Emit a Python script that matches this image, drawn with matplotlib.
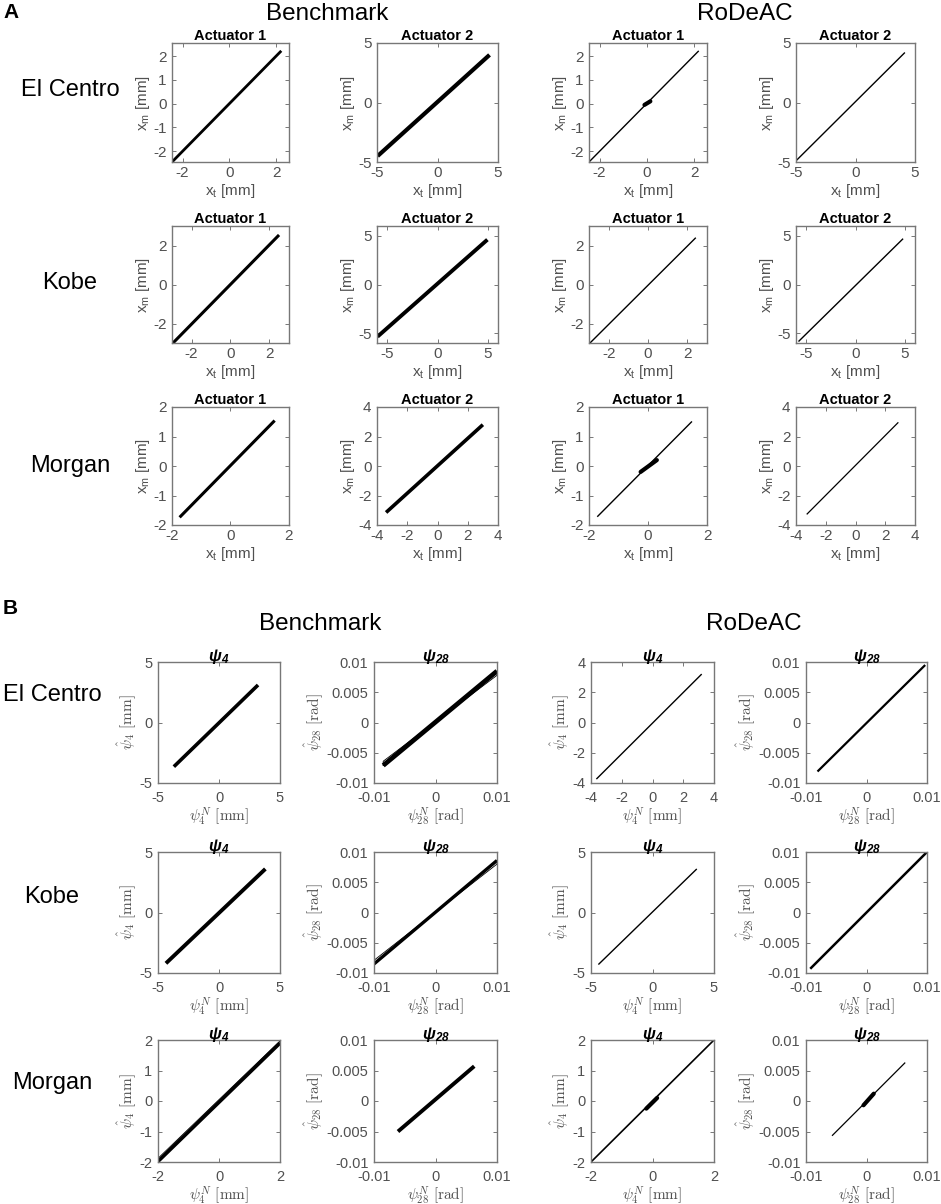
import numpy as np
import matplotlib
matplotlib.use('Agg')
import matplotlib.pyplot as plt

plt.rcParams['font.family'] = ['Liberation Sans', 'DejaVu Sans']
plt.rcParams['mathtext.fontset'] = 'custom'
plt.rcParams['mathtext.rm'] = 'Liberation Sans'
plt.rcParams['mathtext.it'] = 'Liberation Sans:italic'
plt.rcParams['mathtext.bf'] = 'Liberation Sans:bold:italic'

W, H = 941, 1204

records = ['El Centro', 'Kobe', 'Morgan']
methods = ['Benchmark', 'RoDeAC']

# ---- Panel A: actuator tracking (x_t vs x_m) ----
a_titles = ['Actuator 1', 'Actuator 2', 'Actuator 1', 'Actuator 2']
a_lim = [[(-2.45, 2.55), (-5, 5), (-2.45, 2.55), (-5, 5)],
         [(-3, 3), (-6, 6), (-3, 3), (-6, 6)],
         [(-2, 2), (-4, 4), (-2, 2), (-4, 4)]]
a_xticks = [[[-2, 0, 2], [-5, 0, 5], [-2, 0, 2], [-5, 0, 5]],
            [[-2, 0, 2], [-5, 0, 5], [-2, 0, 2], [-5, 0, 5]],
            [[-2, 0, 2], [-4, -2, 0, 2, 4], [-2, 0, 2], [-4, -2, 0, 2, 4]]]
a_yticks = [[[-2, -1, 0, 1, 2], [-5, 0, 5], [-2, -1, 0, 1, 2], [-5, 0, 5]],
            [[-2, 0, 2], [-5, 0, 5], [-2, 0, 2], [-5, 0, 5]],
            [[-2, -1, 0, 1, 2], [-4, -2, 0, 2, 4], [-2, -1, 0, 1, 2], [-4, -2, 0, 2, 4]]]
# trace end points (start x, start y, end x, end y)
a_x0 = [[-2.45, -4.95, -2.45, -5.0], [-2.95, -5.95, -2.95, -5.75], [-1.74, -3.4, -1.72, -3.28]]
a_y0 = [[-2.45, -4.5, -2.45, -4.9], [-3.0, -5.35, -3.0, -5.85], [-1.74, -3.15, -1.72, -3.28]]
a_x1 = [[2.22, 4.3, 2.2, 4.15], [2.49, 4.95, 2.43, 4.8], [1.51, 3.0, 1.49, 2.88]]
a_y1 = [[2.22, 4.0, 2.22, 4.2], [2.54, 4.6, 2.4, 4.7], [1.54, 2.8, 1.51, 2.96]]
# local thickening around the origin (x0, y0, x1, y1), None if absent
a_blob = [[None, None, (-0.1, -0.05, 0.15, 0.1), None],
          [None, None, None, None],
          [None, None, (-0.25, -0.2, 0.3, 0.2), None]]

# ---- Panel B: modal estimation (psi^N vs psi_hat) ----
b_modes = ['4', '28', '4', '28']
b_units = ['mm', 'rad', 'mm', 'rad']
b_lim = [[(-5, 5), (-0.01, 0.01), (-4, 4), (-0.01, 0.01)],
         [(-5, 5), (-0.01, 0.01), (-5, 5), (-0.01, 0.01)],
         [(-2, 2), (-0.01, 0.01), (-2, 2), (-0.01, 0.01)]]
b_xticks = [[[-5, 0, 5], [-0.01, 0, 0.01], [-4, -2, 0, 2, 4], [-0.01, 0, 0.01]],
            [[-5, 0, 5], [-0.01, 0, 0.01], [-5, 0, 5], [-0.01, 0, 0.01]],
            [[-2, 0, 2], [-0.01, 0, 0.01], [-2, 0, 2], [-0.01, 0, 0.01]]]
b_yticks = [[[-5, 0, 5], [-0.01, -0.005, 0, 0.005, 0.01], [-4, -2, 0, 2, 4], [-0.01, -0.005, 0, 0.005, 0.01]],
            [[-5, 0, 5], [-0.01, -0.005, 0, 0.005, 0.01], [-5, 0, 5], [-0.01, -0.005, 0, 0.005, 0.01]],
            [[-2, -1, 0, 1, 2], [-0.01, -0.005, 0, 0.005, 0.01], [-2, -1, 0, 1, 2], [-0.01, -0.005, 0, 0.005, 0.01]]]
b_x0 = [[-3.7, -0.0085, -3.65, -0.0081], [-4.35, -0.01, -4.4, -0.0093], [-2.0, -0.0061, -2.0, -0.0057]]
b_y0 = [[-3.65, -0.0071, -3.74, -0.0081], [-4.2, -0.0085, -4.3, -0.0093], [-1.98, -0.005, -2.0, -0.0057]]
b_x1 = [[3.2, 0.01, 3.2, 0.0097], [3.8, 0.01, 3.6, 0.01], [2.0, 0.0063, 2.0, 0.0064]]
b_y1 = [[3.1, 0.0085, 3.2, 0.0095], [3.6, 0.0086, 3.6, 0.01], [1.9, 0.0057, 2.0, 0.0063]]
# visible hysteresis loop outline (lower branch start y, lower branch end y), None if absent
b_loop = [[None, (-0.0064, 0.0078), None, None],
          [None, (-0.0079, 0.0080), None, None],
          [(-1.88, 1.97), None, None, None]]
b_blob = [[None, None, None, None],
          [None, None, None, None],
          [None, None, (-0.2, -0.25, 0.15, 0.1), (-0.0005, -0.0007, 0.0012, 0.0012)]]

# ---- layout (pixels): columns (left, right), rows (top, bottom) ----
a_cols = [(172, 289), (377, 498), (589, 707), (796, 915)]
a_rows = [(43, 162), (226, 343), (407, 525)]
b_cols = [(158, 280), (374, 497), (591, 714), (806, 927)]
b_rows = [(662, 783), (852, 973), (1040, 1162)]

a_lw = [[2.0, 3.0, 1.0, 1.0], [2.2, 2.8, 1.0, 1.0], [2.2, 2.6, 1.0, 0.9]]
b_lw = [[2.6, 3.4, 1.0, 1.6], [2.8, 2.4, 1.0, 1.8], [2.6, 2.8, 1.2, 0.9]]
gray_txt = '#505050'
gray_ax = '#777777'

fig = plt.figure(figsize=(W / 100, H / 100), dpi=100)


def add_ax(col, row):
    l, r = col
    t, b = row
    return fig.add_axes([l / W, 1 - b / H, (r - l) / W, (b - t) / H])


def style(ax, lim, xt, yt, size, xpad):
    ax.set_xlim(lim)
    ax.set_ylim(lim)
    ax.set_xticks(xt)
    ax.set_yticks(yt)
    ax.set_xticklabels([f'{v:g}' for v in xt])
    ax.set_yticklabels([f'{v:g}' for v in yt])
    ax.tick_params(direction='in', length=3, width=0.7, color=gray_ax,
                   labelcolor=gray_txt, labelsize=size, top=True, right=True)
    ax.tick_params(axis='x', pad=xpad)
    ax.tick_params(axis='y', pad=4)
    for s in ax.spines.values():
        s.set_color(gray_ax)
        s.set_linewidth(1.0)


def draw(ax, x0, y0, x1, y1, lw, blob):
    ax.plot([x0, x1], [y0, y1], color='black', lw=lw, solid_capstyle='butt')
    if blob is not None:
        ax.plot([blob[0], blob[2]], [blob[1], blob[3]], color='black', lw=3.0,
                solid_capstyle='round')


for i in range(3):
    for j in range(4):
        ax = add_ax(a_cols[j], a_rows[i])
        style(ax, a_lim[i][j], a_xticks[i][j], a_yticks[i][j], 11, 3)
        draw(ax, a_x0[i][j], a_y0[i][j], a_x1[i][j], a_y1[i][j], a_lw[i][j], a_blob[i][j])
        ax.set_title(a_titles[j], fontsize=10.5, fontweight='bold', pad=2)
        ax.set_xlabel(r'x$_\mathrm{t}$ [mm]', fontsize=11, color=gray_txt, labelpad=1)
        ax.set_ylabel(r'x$_\mathrm{m}$ [mm]', fontsize=11, color=gray_txt, labelpad=1)

for i in range(3):
    for j in range(4):
        ax = add_ax(b_cols[j], b_rows[i])
        style(ax, b_lim[i][j], b_xticks[i][j], b_yticks[i][j], 10.5, 5.5)
        draw(ax, b_x0[i][j], b_y0[i][j], b_x1[i][j], b_y1[i][j], b_lw[i][j], b_blob[i][j])
        if b_loop[i][j] is not None:
            ax.plot([b_x0[i][j], b_x1[i][j], b_x1[i][j], b_x0[i][j], b_x0[i][j]],
                    [b_y0[i][j], b_y1[i][j], b_loop[i][j][1], b_loop[i][j][0], b_y0[i][j]],
                    color='black', lw=0.6)
        m = b_modes[j]
        ax.set_title(r'$\mathbf{\psi}_\mathbf{%s}$' % m, fontsize=12, pad=1)
        ax.set_xlabel(r'$\psi_{%s}^{N}\ \mathrm{[%s]}$' % (m, b_units[j]), fontsize=11,
                      color=gray_txt, labelpad=0, math_fontfamily='cm')
        ax.set_ylabel(r'$\hat{\psi}_{%s}\ \mathrm{[%s]}$' % (m, b_units[j]), fontsize=11,
                      color=gray_txt, labelpad=1, math_fontfamily='cm')

# panel letters, method headers and record labels
fig.text(3 / W, 1 - 13 / H, 'A', fontsize=15, fontweight='bold', va='center', ha='left')
fig.text(3 / W, 1 - 609 / H, 'B', fontsize=15, fontweight='bold', va='center', ha='left')
for name, x in zip(methods, [327, 745]):
    fig.text(x / W, 1 - 14 / H, name, fontsize=17.5, ha='center', va='center')
for name, x in zip(methods, [320, 754]):
    fig.text(x / W, 1 - 624 / H, name, fontsize=17.5, ha='center', va='center')
for name, y in zip(records, [90, 283, 466]):
    fig.text(70 / W, 1 - y / H, name, fontsize=17, ha='center', va='center')
for name, y in zip(records, [695, 897, 1083]):
    fig.text(52 / W, 1 - y / H, name, fontsize=17, ha='center', va='center')

fig.savefig('out.png', dpi=100)
